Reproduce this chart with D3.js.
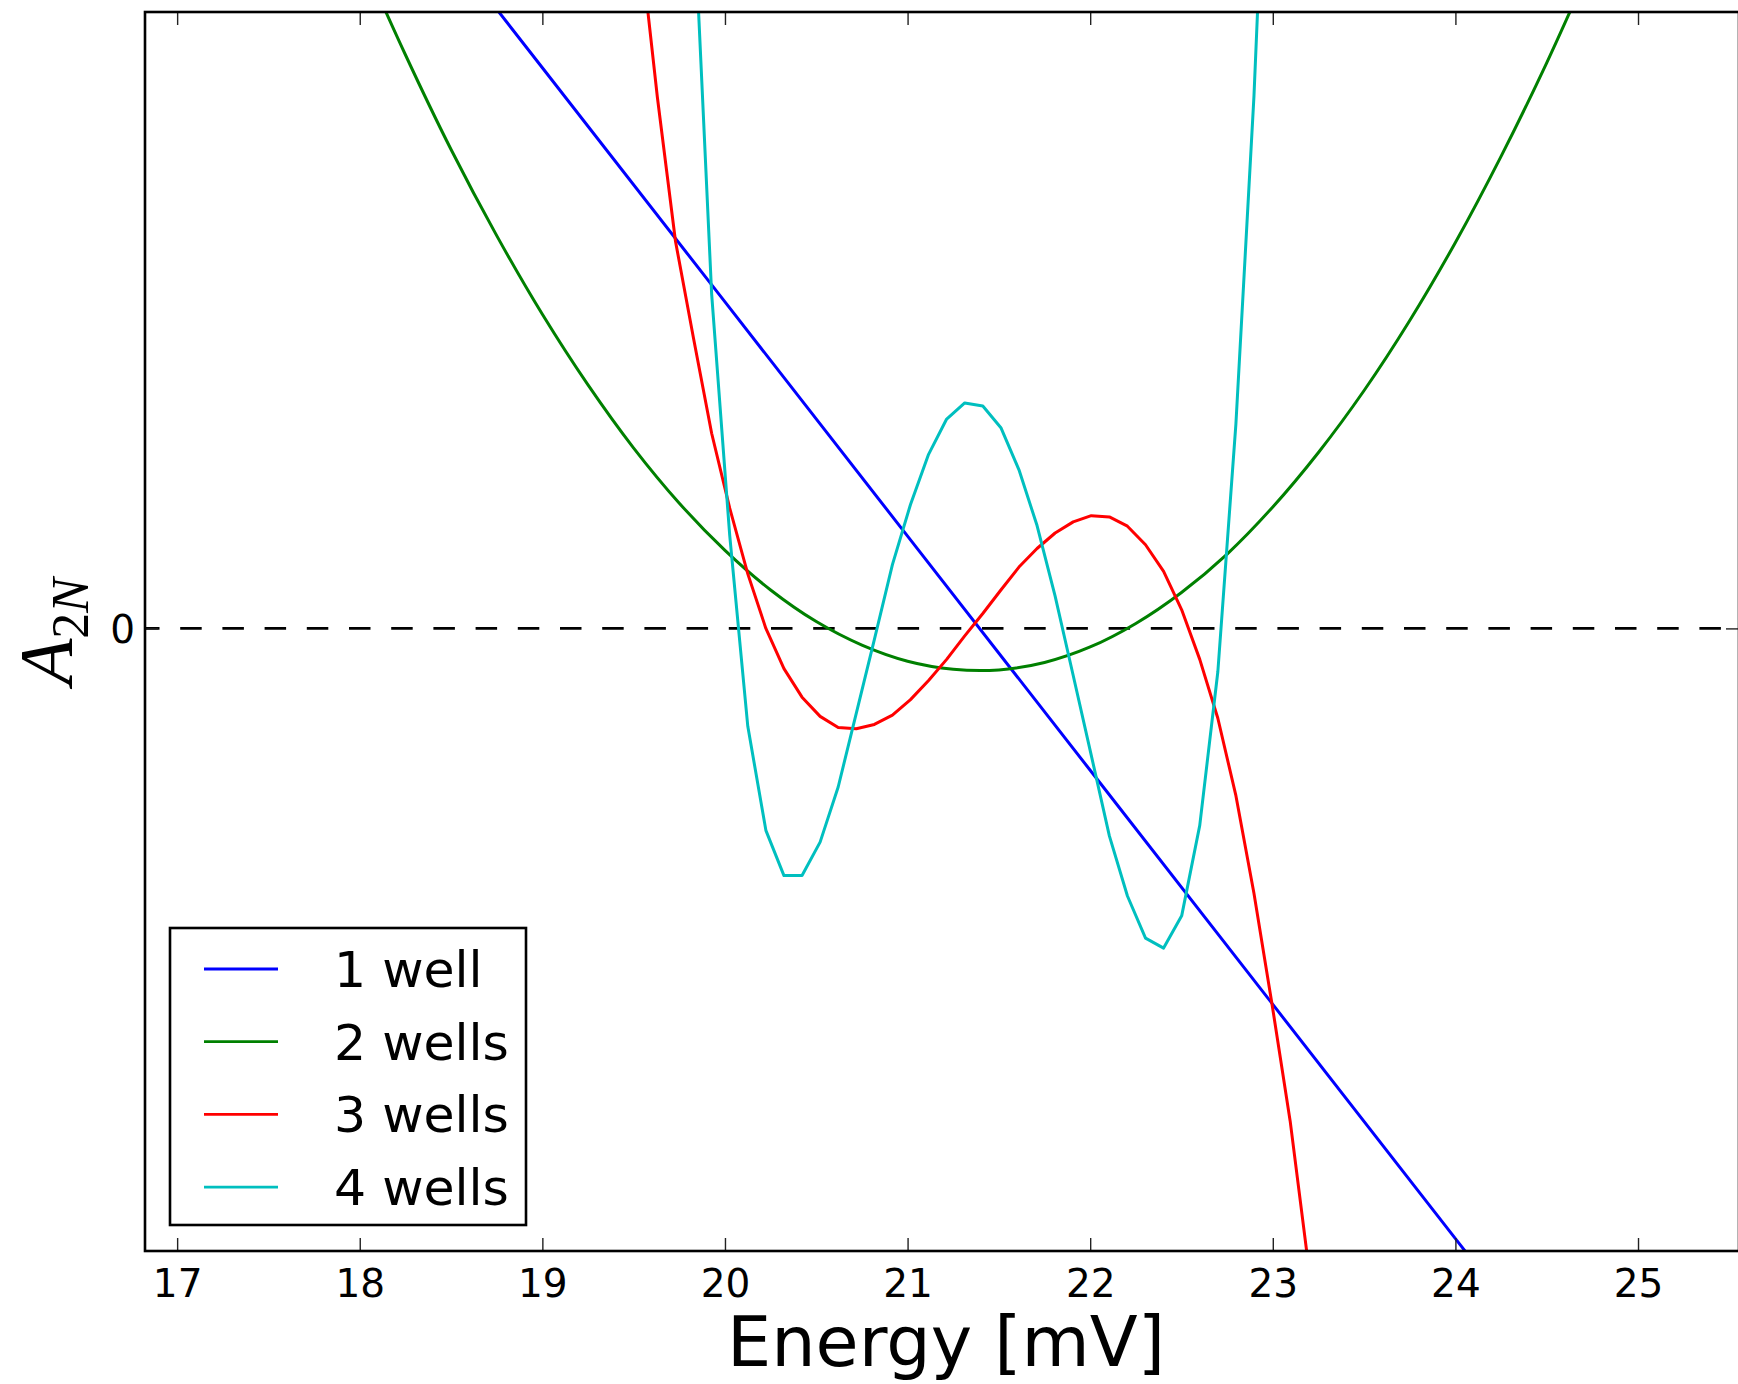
<!DOCTYPE html>
<html>
<head>
<meta charset="utf-8">
<script src="https://cdn.jsdelivr.net/npm/d3@7"></script>
<style>
  html, body { margin: 0; padding: 0; background: #fff; }
  svg { display: block; }
  .tick text { font-family: "DejaVu Sans", sans-serif; fill: #000; }
</style>
</head>
<body>
<div id="chart"></div>
<script>
// tick values
const xTicks = [17, 18, 19, 20, 21, 22, 23, 24, 25];
const yTicks = [0];
const seriesNames = ['1 well', '2 wells', '3 wells', '4 wells'];
const seriesColors = ['#0000ff', '#008000', '#ff0000', '#00bfbf'];

// [energy (mV), A_2N]
const oneWell = [
  [18, 1.283], [19, 0.905], [20, 0.527], [21, 0.149],
  [22, -0.229], [23, -0.607], [24, -0.985], [25, -1.363]
];
const twoWells = [
  [18.00, 1.090], [18.25, 0.926], [18.50, 0.773], [18.75, 0.634],
  [19.00, 0.507], [19.25, 0.393], [19.50, 0.291], [19.75, 0.202],
  [20.00, 0.126], [20.25, 0.062], [20.50, 0.011], [20.75, -0.027],
  [21.00, -0.053], [21.25, -0.066], [21.50, -0.067], [21.75, -0.055],
  [22.00, -0.030], [22.25, 0.008], [22.50, 0.058], [22.75, 0.120],
  [23.00, 0.196], [23.25, 0.284], [23.50, 0.384], [23.75, 0.497],
  [24.00, 0.623], [24.25, 0.762], [24.50, 0.913], [24.75, 1.077]
];
const threeWells = [
  [19.531, 1.120], [19.630, 0.857], [19.729, 0.625], [19.828, 0.468],
  [19.927, 0.315], [20.026, 0.194], [20.125, 0.088], [20.224, 0.000],
  [20.323, -0.065], [20.422, -0.111], [20.521, -0.142], [20.620, -0.160],
  [20.719, -0.162], [20.818, -0.155], [20.917, -0.140], [21.016, -0.115],
  [21.115, -0.084], [21.214, -0.050], [21.313, -0.012], [21.412, 0.024],
  [21.511, 0.062], [21.610, 0.099], [21.709, 0.129], [21.808, 0.154],
  [21.907, 0.172], [22.006, 0.182], [22.105, 0.180], [22.204, 0.165],
  [22.303, 0.135], [22.402, 0.092], [22.501, 0.030], [22.600, -0.050],
  [22.699, -0.145], [22.798, -0.270], [22.897, -0.428], [22.996, -0.607],
  [23.095, -0.795], [23.194, -1.025]
];
const fourWells = [
  [19.828, 1.170], [19.927, 0.540], [20.026, 0.150], [20.125, -0.158],
  [20.224, -0.326], [20.323, -0.399], [20.422, -0.399], [20.521, -0.345],
  [20.620, -0.256], [20.719, -0.137], [20.818, -0.018], [20.917, 0.103],
  [21.016, 0.200], [21.115, 0.281], [21.214, 0.338], [21.313, 0.364],
  [21.412, 0.359], [21.511, 0.324], [21.610, 0.256], [21.709, 0.166],
  [21.808, 0.052], [21.907, -0.076], [22.006, -0.205], [22.105, -0.335],
  [22.204, -0.432], [22.303, -0.500], [22.402, -0.516], [22.501, -0.464],
  [22.600, -0.318], [22.699, -0.070], [22.798, 0.330], [22.897, 0.860],
  [22.996, 1.550]
];

const width = 1738, height = 1384;
const plot = { left: 145, top: 12, right: 1739, bottom: 1251 };

const svg = d3.select('#chart').append('svg')
  .attr('width', width)
  .attr('height', height);

const x = d3.scaleLinear().domain([16.824, 25.553]).range([plot.left, plot.right]);
const y = d3.scaleLinear().domain([-1.005, 0.995]).range([plot.bottom, plot.top]);

svg.append('clipPath').attr('id', 'clip')
  .append('rect')
  .attr('x', plot.left).attr('y', plot.top)
  .attr('width', plot.right - plot.left).attr('height', plot.bottom - plot.top);

const body = svg.append('g').attr('clip-path', 'url(#clip)');

// zero reference line
body.append('line')
  .attr('x1', plot.left).attr('x2', plot.right)
  .attr('y1', y(0)).attr('y2', y(0))
  .attr('stroke', '#000')
  .attr('stroke-width', 2.7)
  .attr('stroke-dasharray', '21.5,20.7')
  .attr('stroke-dashoffset', 7);

const line = d3.line().x(d => x(d[0])).y(d => y(d[1]));
const smooth = d3.line().x(d => x(d[0])).y(d => y(d[1])).curve(d3.curveCatmullRom);

const series = [oneWell, twoWells, threeWells, fourWells];
series.forEach((pts, i) => {
  body.append('path')
    .datum(pts)
    .attr('fill', 'none')
    .attr('stroke', seriesColors[i])
    .attr('stroke-width', 3)
    .attr('stroke-linejoin', 'round')
    .attr('d', i === 1 ? smooth : line);
});

// axes: ticks point inward on all four sides
const tickStyle = g => {
  g.select('.domain').remove();
  g.selectAll('.tick line').attr('stroke', '#222').attr('stroke-width', 1.4);
};

svg.append('g')
  .attr('transform', `translate(0,${plot.bottom})`)
  .call(d3.axisBottom(x).tickValues(xTicks).tickSize(-13).tickPadding(18).tickFormat(d3.format('d')))
  .call(tickStyle)
  .call(g => g.selectAll('.tick text').attr('font-size', 39));

svg.append('g')
  .attr('transform', `translate(0,${plot.top})`)
  .call(d3.axisTop(x).tickValues(xTicks).tickSize(-13).tickFormat(''))
  .call(tickStyle);

svg.append('g')
  .attr('transform', `translate(${plot.left},0)`)
  .call(d3.axisLeft(y).tickValues(yTicks).tickSize(-13).tickPadding(10).tickFormat(d3.format('d')))
  .call(tickStyle)
  .call(g => g.selectAll('.tick text').attr('font-size', 39).attr('dy', '0.36em'));

svg.append('g')
  .attr('transform', `translate(${plot.right},0)`)
  .call(d3.axisRight(y).tickValues(yTicks).tickSize(-13).tickFormat(''))
  .call(tickStyle);

// frame
svg.append('rect')
  .attr('x', plot.left).attr('y', plot.top)
  .attr('width', plot.right - plot.left).attr('height', plot.bottom - plot.top)
  .attr('fill', 'none')
  .attr('stroke', '#000')
  .attr('stroke-width', 2.6);

// axis labels
svg.append('text')
  .attr('x', (plot.left + 1737) / 2 + 5)
  .attr('y', 1366)
  .attr('text-anchor', 'middle')
  .attr('font-family', '"DejaVu Sans", sans-serif')
  .attr('font-size', 70)
  .text('Energy [mV]');

const yLabel = svg.append('text')
  .attr('transform', `translate(72,${(plot.top + plot.bottom) / 2}) rotate(-90)`)
  .attr('text-anchor', 'middle')
  .attr('font-family', '"Liberation Serif", "DejaVu Serif", serif');
yLabel.append('tspan').attr('font-style', 'italic').attr('font-size', 76).text('A');
yLabel.append('tspan').attr('font-size', 52).attr('dy', 16).text('2');
yLabel.append('tspan').attr('font-size', 52).attr('font-style', 'italic').text('N');

// legend
const legend = svg.append('g');
legend.append('rect')
  .attr('x', 170).attr('y', 928)
  .attr('width', 356).attr('height', 297)
  .attr('fill', '#fff')
  .attr('stroke', '#000')
  .attr('stroke-width', 2.6);

seriesNames.forEach((name, i) => {
  const cy = 969 + i * 72.7;
  legend.append('line')
    .attr('x1', 204).attr('x2', 278)
    .attr('y1', cy).attr('y2', cy)
    .attr('stroke', seriesColors[i])
    .attr('stroke-width', 2.8);
  legend.append('text')
    .attr('x', 334).attr('y', cy + 18)
    .attr('font-family', '"DejaVu Sans", sans-serif')
    .attr('font-size', 50.5)
    .text(name);
});
</script>
</body>
</html>
